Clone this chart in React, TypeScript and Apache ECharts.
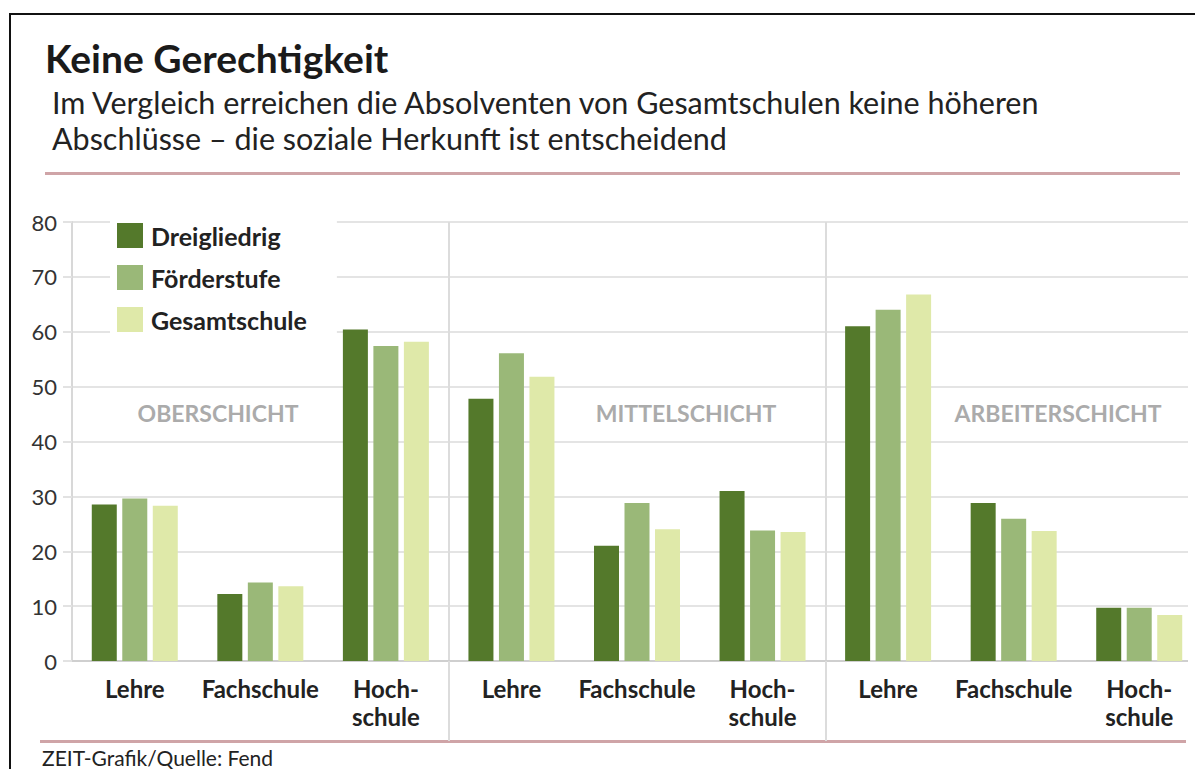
import React, { useEffect, useRef } from "react";
import * as echarts from "echarts";

const strata = ["OBERSCHICHT", "MITTELSCHICHT", "ARBEITERSCHICHT"];
const categories = ["Lehre", "Fachschule", "Hoch-\nschule"];
const seriesNames = ["Dreigliedrig", "Förderstufe", "Gesamtschule"];
const dreigliedrig = [28.5, 12.2, 60.4, 47.8, 21.0, 31.0, 61.0, 28.8, 9.7];
const foerderstufe = [29.6, 14.3, 57.4, 56.1, 28.8, 23.8, 64.0, 25.9, 9.7];
const gesamtschule = [28.3, 13.6, 58.2, 51.8, 24.0, 23.5, 66.8, 23.7, 8.4];
const yTicks = [0, 10, 20, 30, 40, 50, 60, 70, 80];
const colors = ["#54792b", "#9ab878", "#dfe9a9"];

const FONT = "Lato, 'Open Sans', sans-serif";

export default function App() {
  const ref = useRef<HTMLDivElement>(null);
  useEffect(() => {
    if (!ref.current) return;
    const chart = echarts.init(ref.current, undefined, { renderer: "svg" });
    const axisData: string[] = [];
    strata.forEach((s) => categories.forEach((c) => axisData.push(s + "|" + c)));
    const values = [dreigliedrig, foerderstufe, gesamtschule];
    const sepIdx = (i: number) => i === 3 || i === 6;
    const stratumStyle = { font: `bold 23px ${FONT}`, fill: "#ababab", align: "center", verticalAlign: "middle" };
    chart.setOption({
      animation: false,
      backgroundColor: "#ffffff",
      textStyle: { fontFamily: FONT },
      grid: { left: 72, top: 222, height: 439, width: 1130, outerBoundsMode: "none", containLabel: false },
      legend: {
        orient: "vertical",
        left: 110,
        top: 212,
        padding: [11, 30, 10, 7],
        backgroundColor: "#ffffff",
        itemWidth: 26,
        itemHeight: 25,
        itemGap: 17,
        icon: "rect",
        textStyle: { fontSize: 25, fontWeight: "bold", color: "#222", padding: [0, 0, 0, 3], fontFamily: FONT },
        data: seriesNames,
      },
      xAxis: {
        type: "category",
        data: axisData,
        boundaryGap: true,
        axisLine: { show: true, lineStyle: { color: "#cfcfcf", width: 2 } },
        axisTick: { show: true, interval: sepIdx, length: 80, lineStyle: { color: "#dcdcdc", width: 2 } },
        splitLine: { show: true, interval: sepIdx, lineStyle: { color: "#dcdcdc", width: 2 } },
        axisLabel: {
          interval: 0,
          margin: 13,
          fontSize: 24,
          fontWeight: "bold",
          color: "#222",
          lineHeight: 28,
          fontFamily: FONT,
          formatter: (v: string) => v.split("|")[1],
        },
      },
      yAxis: {
        type: "value",
        min: yTicks[0],
        max: yTicks[yTicks.length - 1],
        interval: 10,
        axisLine: { show: true, lineStyle: { color: "#d8d8d8", width: 2 } },
        axisTick: { show: true, length: 9, lineStyle: { color: "#e2e2e2", width: 2 } },
        splitLine: { show: true, lineStyle: { color: "#e4e4e4", width: 2 } },
        axisLabel: { fontSize: 22, color: "#333", margin: 15, fontFamily: FONT },
      },
      series: seriesNames.map((name, k) => ({
        name,
        type: "bar",
        data: values[k],
        barWidth: 25,
        barGap: "22%",
        itemStyle: { color: colors[k] },
      })),
      graphic: [
        { type: "rect", z: 100, shape: { x: 1188, y: 16, width: 10, height: 760 }, style: { fill: "#ffffff" } },
        { type: "line", z: 101, shape: { x1: 9, y1: 14, x2: 1195, y2: 14 }, style: { stroke: "#111", lineWidth: 2 } },
        { type: "line", shape: { x1: 10, y1: 14, x2: 10, y2: 769 }, style: { stroke: "#111", lineWidth: 2 } },
        { type: "text", left: 45, top: 38, style: { text: "Keine Gerechtigkeit", font: `bold 39px ${FONT}`, fill: "#1a1a1a" } },
        { type: "text", left: 52, top: 86, style: { text: "Im Vergleich erreichen die Absolventen von Gesamtschulen keine höheren", font: `30.5px ${FONT}`, fill: "#222", lineHeight: 31 } },
        { type: "text", left: 52, top: 122, style: { text: "Abschlüsse – die soziale Herkunft ist entscheidend", font: `30.5px ${FONT}`, fill: "#222", lineHeight: 31 } },
        { type: "rect", shape: { x: 45, y: 172, width: 1135, height: 3 }, style: { fill: "#cfa4a7" } },
        { type: "rect", shape: { x: 40, y: 740, width: 1146, height: 3 }, style: { fill: "#cfa4a7" } },
        { type: "text", left: 42, top: 747, style: { text: "ZEIT-Grafik/Quelle: Fend", font: `21px ${FONT}`, fill: "#222" } },
        { type: "text", x: 218, y: 413, style: { text: strata[0], ...stratumStyle } },
        { type: "text", x: 686, y: 413, style: { text: strata[1], ...stratumStyle } },
        { type: "text", x: 1058, y: 413, style: { text: strata[2], ...stratumStyle } },
      ],
    });
    return () => chart.dispose();
  }, []);
  return <div ref={ref} style={{ position: "absolute", left: 0, top: 0, width: 1195, height: 769, overflow: "hidden" }} />;
}
